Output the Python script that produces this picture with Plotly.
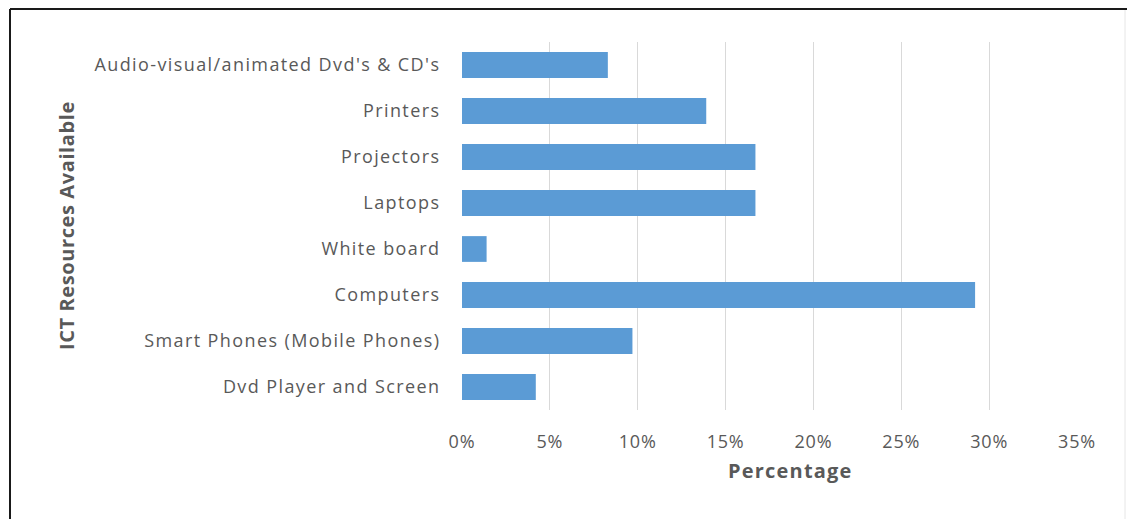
import plotly.graph_objects as go

categories = [
    "Audio-visual/animated Dvd's & CD's",
    "Printers",
    "Projectors",
    "Laptops",
    "White board",
    "Computers",
    "Smart Phones (Mobile Phones)",
    "Dvd Player and Screen",
]
values = [0.083, 0.139, 0.167, 0.167, 0.014, 0.292, 0.097, 0.042]
x_ticks = [0, 0.05, 0.10, 0.15, 0.20, 0.25, 0.30, 0.35]
x_title = "Percentage"
y_title = "ICT Resources Available"

W, H = 1127, 519
L, R, T, B = 462, 50, 42, 109
pw, ph = W - L - R, H - T - B

def px_x(p):
    return (p - L) / pw

def px_y(p):
    return 1 - (p - T) / ph

font_main = "Open Sans"
gray = "#595959"

def spaced(s, ls):
    return "<span style='letter-spacing:%spx'>%s</span>" % (ls, s)

fig = go.Figure(
    go.Bar(
        x=values,
        y=categories,
        orientation="h",
        marker=dict(color="#5B9BD5", line=dict(width=0)),
        hoverinfo="x+y",
    )
)

fig.update_layout(
    width=W,
    height=H,
    margin=dict(l=L, r=R, t=T, b=B, pad=0),
    paper_bgcolor="white",
    plot_bgcolor="white",
    bargap=0.44,
    showlegend=False,
    font=dict(family=font_main, color=gray, size=18),
)

fig.update_xaxes(
    range=[0, 0.35],
    tickvals=x_ticks,
    ticktext=[spaced("%d%%" % round(v * 100), 0.8) for v in x_ticks],
    showgrid=True,
    gridcolor="#D9D9D9",
    gridwidth=1,
    zeroline=False,
    showline=False,
    ticks="outside",
    ticklen=15,
    tickcolor="rgba(0,0,0,0)",
    tickfont=dict(family=font_main, size=18, color=gray),
    fixedrange=True,
)

fig.update_yaxes(
    autorange="reversed",
    tickvals=categories,
    ticktext=[spaced(c, 1.4) for c in categories],
    showgrid=False,
    zeroline=False,
    showline=False,
    ticks="outside",
    ticklen=17,
    tickcolor="rgba(0,0,0,0)",
    tickfont=dict(family=font_main, size=18, color=gray),
    fixedrange=True,
)

fig.add_annotation(
    text="<b>" + spaced(x_title, 1.2) + "</b>",
    xref="paper", yref="paper",
    x=px_x(790), y=px_y(470),
    xanchor="center", yanchor="middle",
    showarrow=False,
    font=dict(family=font_main, size=20, color=gray),
)
fig.add_annotation(
    text="<b>" + spaced(y_title, 0.6) + "</b>",
    xref="paper", yref="paper",
    x=px_x(66), y=px_y(226),
    xanchor="center", yanchor="middle",
    textangle=-90,
    showarrow=False,
    font=dict(family=font_main, size=20, color=gray),
)

# outer frame (top and left dark edges, faint right edge)
fig.add_shape(type="line", xref="paper", yref="paper",
              x0=px_x(10), x1=px_x(W + 5), y0=px_y(9), y1=px_y(9),
              line=dict(color="#1a1a1a", width=2))
fig.add_shape(type="line", xref="paper", yref="paper",
              x0=px_x(10), x1=px_x(10), y0=px_y(9), y1=px_y(H + 5),
              line=dict(color="#1a1a1a", width=2))
fig.add_shape(type="line", xref="paper", yref="paper",
              x0=px_x(1125), x1=px_x(1125), y0=px_y(10), y1=px_y(H + 5),
              line=dict(color="#E6E6E6", width=1))

fig.write_html("out.html")
